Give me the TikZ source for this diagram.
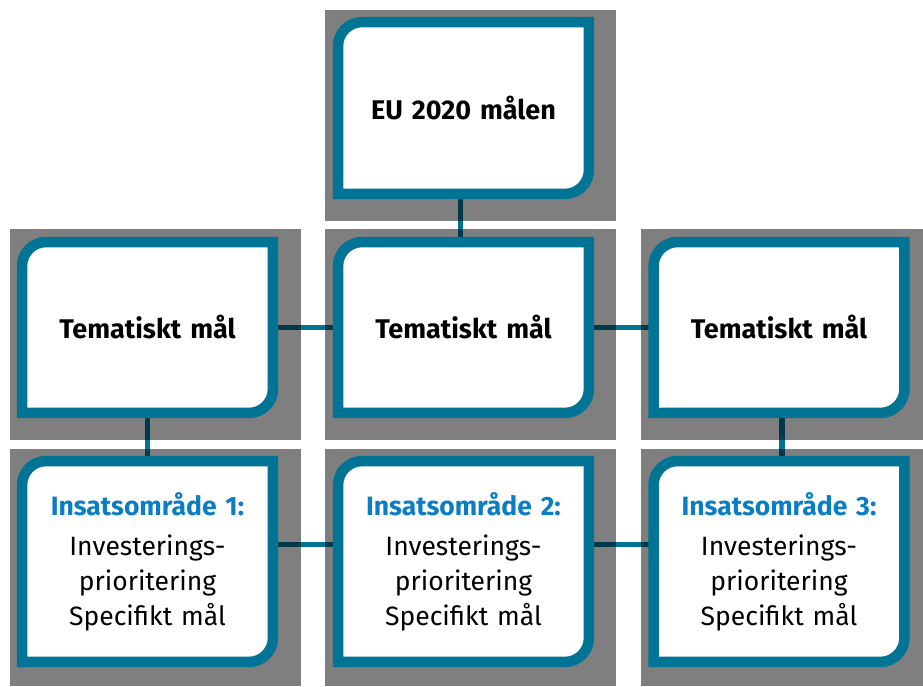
\documentclass[tikz,border=0pt]{standalone}
\usepackage{fontspec}
\setmainfont{Fira Sans}
\definecolor{teal1}{HTML}{007494}
\definecolor{blue1}{HTML}{0B7EC3}
\pgfdeclarelayer{lines}
\pgfdeclarelayer{shade}
\pgfdeclarelayer{frames}
\pgfsetlayers{lines,shade,frames,main}
\begin{document}
\begin{tikzpicture}[x=1pt,y=1pt,
  box/.style={minimum width=250.5pt, inner sep=0pt, align=center, text width=240pt},
  topbox/.style={box, minimum height=171.5pt, font=\fontsize{27}{32}\selectfont\bfseries},
  midbox/.style={box, minimum height=170.5pt, font=\fontsize{27}{32}\selectfont\bfseries},
  botbox/.style={box, minimum height=200.5pt, font=\fontsize{26.5}{35}\selectfont},
  frame/.style={draw=teal1, line width=10.5pt, fill=white},
  link/.style={draw=teal1, line width=5.7pt},
  shadebox/.style={fill=black, fill opacity=0.5}]
\useasboundingbox (0,0) rectangle (923,686);
\node[topbox] (eu) at (463.5,578) {EU 2020 målen};
\node[midbox] (t1) at (147.5,358.5) {Tematiskt mål};
\node[midbox] (t2) at (463.5,358.5) {Tematiskt mål};
\node[midbox] (t3) at (779,358.5) {Tematiskt mål};
\node[botbox] (i1) at (147.5,124.5) {{\color{blue1}\bfseries Insatsområde 1:}\\[5pt]Investerings-\\prioritering\\Specifikt mål};
\node[botbox] (i2) at (463.5,124.5) {{\color{blue1}\bfseries Insatsområde 2:}\\[5pt]Investerings-\\prioritering\\Specifikt mål};
\node[botbox] (i3) at (779,124.5) {{\color{blue1}\bfseries Insatsområde 3:}\\[5pt]Investerings-\\prioritering\\Specifikt mål};
\begin{pgfonlayer}{lines}
\draw[link] ([xshift=-3pt]eu.south) -- ([xshift=-3pt]t2.north);
\draw[link] (t1.south) -- (i1.north);
\draw[link] ([xshift=3pt]t3.south) -- ([xshift=3pt]i3.north);
\draw[link] (t1.east) -- (t2.west);
\draw[link] (t2.east) -- (t3.west);
\draw[link] ([yshift=17pt]i1.east) -- ([yshift=17pt]i2.west);
\draw[link] ([yshift=17pt]i2.east) -- ([yshift=17pt]i3.west);
\end{pgfonlayer}
\begin{pgfonlayer}{shade}
\fill[shadebox] (325,465) rectangle (616,676);
\fill[shadebox] (10,246) rectangle (301,457);
\fill[shadebox] (325,246) rectangle (616,457);
\fill[shadebox] (641,246) rectangle (923,457);
\fill[shadebox] (10,0) rectangle (301,237);
\fill[shadebox] (325,0) rectangle (616,237);
\fill[shadebox] (641,0) rectangle (923,237);
\end{pgfonlayer}
\begin{pgfonlayer}{frames}
\foreach \n in {eu,t1,t2,t3,i1,i2,i3}
  \draw[frame] (\n.south west) -- ([yshift=-24pt]\n.north west)
    arc[start angle=180,end angle=90,radius=24pt] -- (\n.north east)
    -- ([yshift=24pt]\n.south east)
    arc[start angle=0,end angle=-90,radius=24pt] -- cycle;
\end{pgfonlayer}
\end{tikzpicture}
\end{document}
